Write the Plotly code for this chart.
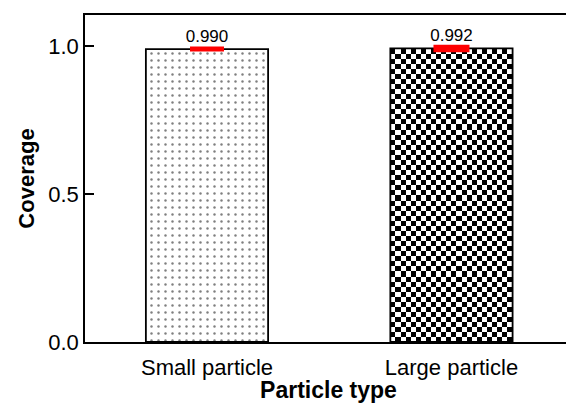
import numpy as np
import plotly.graph_objects as go

categories = ["Small particle", "Large particle"]
coverage = [0.990, 0.992]
coverage_err = [0.002, 0.006]
value_labels = ["0.990", "0.992"]
y_ticks = [0.0, 0.5, 1.0]
y_ticklabels = ["0.0", "0.5", "1.0"]

FONT = "Liberation Sans, Arial, sans-serif"
bar_width = 0.5
xpos = list(range(len(categories)))

fig = go.Figure()

# checkerboard fill for the large-particle bar (built from its value and width)
ncols = 24
cell = bar_width / ncols
cell_y = cell * 244.5 / 296.0
nrows = int(round(coverage[1] / cell_y))
xe = np.linspace(xpos[1] - bar_width / 2, xpos[1] + bar_width / 2, ncols + 1)
ye = np.linspace(0, coverage[1], nrows + 1)
zz = np.array([[(i + j + nrows) % 2 for j in range(ncols)] for i in range(nrows)])
fig.add_trace(go.Heatmap(x=xe, y=ye, z=zz, zsmooth=False, showscale=False,
                         colorscale=[[0, "white"], [1, "black"]], zmin=0, zmax=1,
                         hoverinfo="skip"))

fig.add_trace(go.Bar(
    x=[xpos[0]], y=[coverage[0]], width=bar_width,
    marker=dict(color="white", line=dict(color="black", width=1.8),
                pattern=dict(shape=".", fgcolor="black", bgcolor="white", size=7, solidity=0.1)),
    error_y=dict(type="data", array=[coverage_err[0]], color="red", thickness=4, width=17),
    text=[value_labels[0]], textposition="outside", cliponaxis=False,
    textfont=dict(family=FONT, size=17, color="black"),
    showlegend=False))
fig.add_trace(go.Bar(
    x=[xpos[1]], y=[coverage[1]], width=bar_width,
    marker=dict(color="rgba(0,0,0,0)", line=dict(color="black", width=1.8)),
    error_y=dict(type="data", array=[coverage_err[1]], color="red", thickness=4, width=18),
    text=[value_labels[1]], textposition="outside", cliponaxis=False,
    textfont=dict(family=FONT, size=17, color="black"),
    showlegend=False))

fig.update_layout(
    width=572, height=403,
    margin=dict(l=85, r=0, t=15, b=61),
    plot_bgcolor="white", paper_bgcolor="white",
    barmode="overlay",
    font=dict(family=FONT, color="black"),
    xaxis=dict(range=[-0.499, 1.493], tickvals=xpos, ticktext=categories,
               showgrid=False, zeroline=False, showline=True, linecolor="black",
               linewidth=1.5, mirror=True, ticks="", tickfont=dict(size=22),
               ticklabelstandoff=5, automargin=False,
               title=dict(text="<b>Particle type</b>", font=dict(size=23), standoff=3)),
    yaxis=dict(range=[0, 1.105], tickvals=y_ticks, ticktext=y_ticklabels,
               showgrid=False, zeroline=False, showline=True, linecolor="black",
               linewidth=1.5, ticks="inside", ticklen=9, tickwidth=1.5, tickcolor="black",
               tickfont=dict(size=22), automargin=False,
               title=dict(text="<b>Coverage</b>", font=dict(size=22), standoff=8)),
)

fig.write_html("out.html", config={"displayModeBar": False},
               post_script="document.body.style.margin='0';document.body.style.overflow='hidden';")
